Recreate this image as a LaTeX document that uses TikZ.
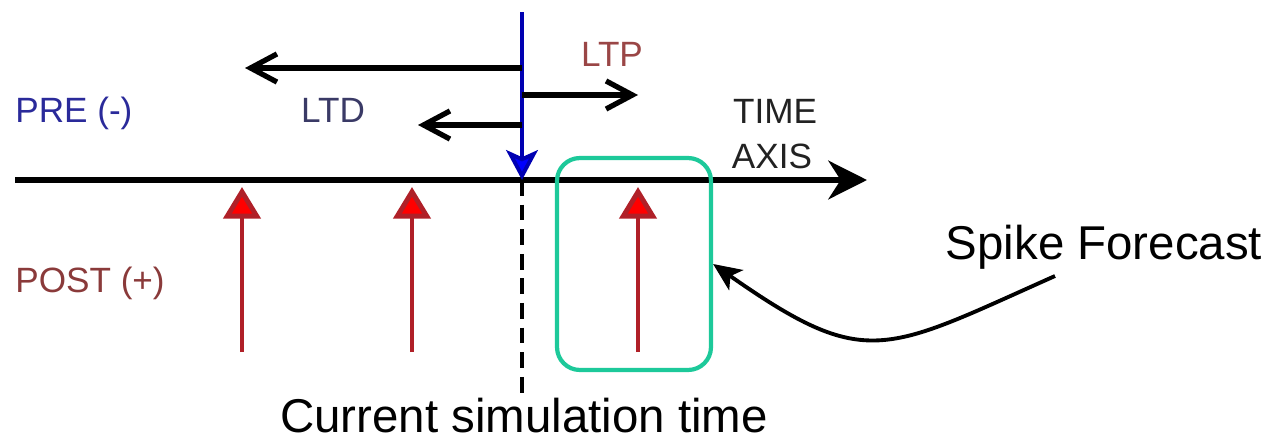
\documentclass[tikz,border=0pt]{standalone}
\usepackage{fontspec}
\setmainfont{Liberation Sans}
\usetikzlibrary{arrows.meta}
\definecolor{preblue}{HTML}{2A2A9A}
\definecolor{postred}{HTML}{8A3A3A}
\definecolor{ltpred}{HTML}{9A4646}
\definecolor{ltdgray}{HTML}{3A3A66}
\definecolor{axisgray}{HTML}{222222}
\definecolor{boxgreen}{HTML}{1DC99A}
\definecolor{spikered}{HTML}{B02028}
\begin{document}
\begin{tikzpicture}[x=0.02cm,y=0.02cm,every node/.style={font=\fontsize{20}{24}\selectfont,inner sep=0pt}]
  \useasboundingbox (0,0) rectangle (1268,441);
  % time axis and current time
  \coordinate (tstart) at (15,261); \coordinate (tend) at (867,261);
  \coordinate (now) at (522,261); \coordinate (ntop) at (522,429); \coordinate (nbot) at (522,45);
  \draw[line width=3.1pt,-{Stealth[length=22pt,width=22pt,inset=7pt]}] (tstart) -- (tend);
  \draw[line width=1.9pt,dash pattern=on 9pt off 5pt] (now) -- (nbot);
  \draw[line width=2.2pt,blue!70!black,-{Stealth[length=17pt,width=18pt,inset=4pt,fill=blue]}] (ntop) -- (now);
  % windows
  \coordinate (w1) at (522,373); \coordinate (w1end) at (245,373);
  \coordinate (w2) at (522,346); \coordinate (w2end) at (638,346);
  \coordinate (w3) at (522,316); \coordinate (w3end) at (418,316);
  \draw[line width=3pt,-{Straight Barb[length=15pt,width=16pt]}] (w1) -- (w1end);
  \draw[line width=3pt,-{Straight Barb[length=15pt,width=16pt]}] (w2) -- (w2end);
  \draw[line width=3pt,-{Straight Barb[length=15pt,width=16pt]}] (w3) -- (w3end);
  % post spikes
  \foreach \x/\n in {242/a,412/b,638/c}{
    \coordinate (s\n) at (\x,89); \coordinate (h\n) at (\x,254);
    \draw[line width=2.8pt,spikered,-{Triangle[length=18pt,width=21pt,fill=red]}] (s\n) -- (h\n);
  }
  \node[draw=boxgreen,line width=2.4pt,rounded corners=13pt,minimum width=3.08cm,minimum height=4.24cm] (forecast) at (634,177) {};
  % labels
  \node[anchor=base west,text=preblue] (pre) at (15,319) {PRE (-)};
  \node[anchor=base west,text=postred] (post) at (15,149) {POST (+)};
  \node[anchor=base,text=ltpred] (ltp) at (612,375) {LTP};
  \node[anchor=base,text=ltdgray] (ltd) at (333,319) {LTD};
  \node[anchor=base,text=axisgray] (time) at (775,318) {TIME};
  \node[anchor=base,text=axisgray] (axis) at (772,273) {AXIS};
  \node[anchor=base,font=\fontsize{27}{32}\selectfont] (spike) at (1104,182) {Spike Forecast};
  \node[anchor=base,font=\fontsize{27}{32}\selectfont] (cur) at (524,9) {Current simulation time};
  \coordinate (cstart) at (1055,165);
  \draw[line width=2.2pt,-{Stealth[length=16pt,width=14pt,inset=4pt]}] (cstart) to[out=204,in=-35,looseness=1.4] (forecast.east);
\end{tikzpicture}
\end{document}
